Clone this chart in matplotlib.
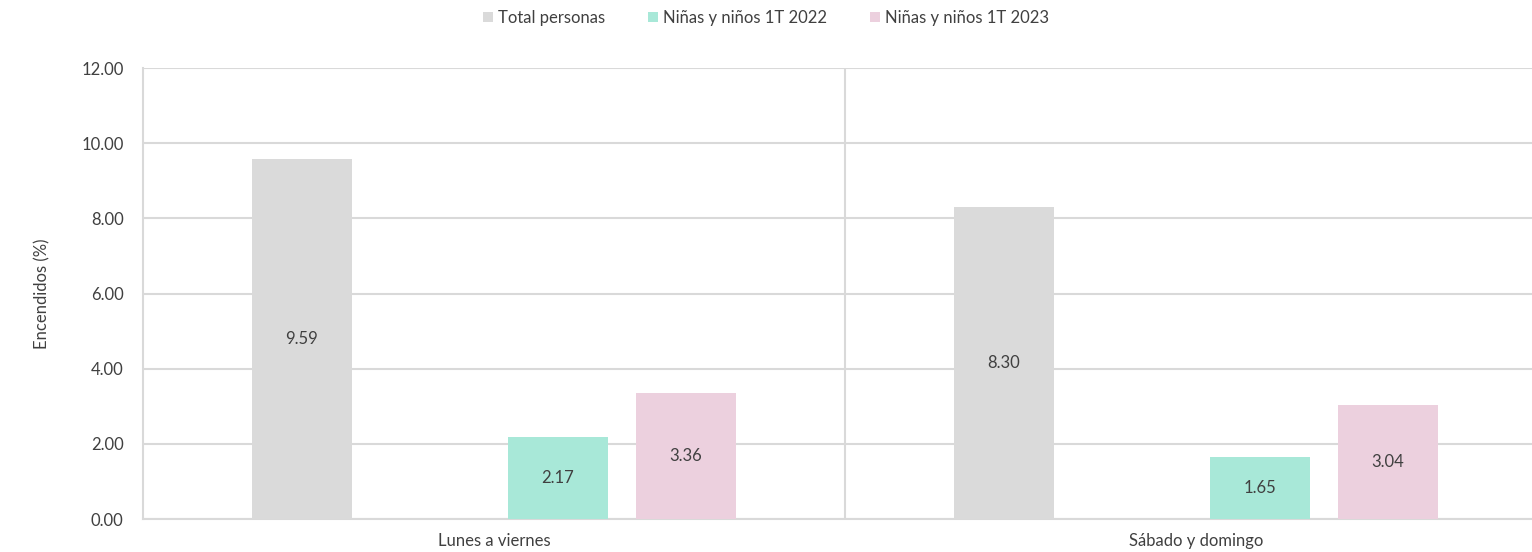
import numpy as np
import matplotlib.pyplot as plt
from matplotlib.patches import Patch

plt.rcParams['font.family'] = ['Lato', 'DejaVu Sans']

categorias = ['Lunes a viernes', 'Sábado y domingo']
series = ['Total personas', 'Niñas y niños 1T 2022', 'Niñas y niños 1T 2023']
valores = [
    [9.59, 8.30],
    [2.17, 1.65],
    [3.36, 3.04],
]
colores = ['#dadada', '#a8e8d8', '#ecd0de']
# the chart keeps an empty 2nd slot in every group
huecos = [0, 2, 3]
n_huecos = 4

texto = '#404040'
rejilla = '#d9d9d9'
fs = 12

fig = plt.figure(figsize=(15.32, 5.52), dpi=100)
ax = fig.add_axes([143 / 1532, 33 / 552, 1404 / 1532, 451 / 552])

x = np.arange(len(categorias))
paso = 128 / 702
ancho = 100 / 702

for s, nombre in enumerate(series):
    pos = x + (huecos[s] - (n_huecos - 1) / 2) * paso
    barras = ax.bar(pos, valores[s], width=ancho, color=colores[s], zorder=3)
    for b, v in zip(barras, valores[s]):
        ax.text(b.get_x() + b.get_width() / 2, v / 2, '%.2f' % v,
                ha='center', va='center', fontsize=fs, color=texto, zorder=4)

ax.set_xlim(-0.5, len(categorias) - 0.5)
ax.set_ylim(0, 12)
ax.set_yticks(np.arange(0, 12.01, 2))
ax.yaxis.set_major_formatter(plt.FormatStrFormatter('%.2f'))
ax.set_xticks(x)
ax.set_xticklabels(categorias)

ax.grid(axis='y', color=rejilla, linewidth=1.5, zorder=0)
for xb in x[:-1] + 0.5:
    ax.axvline(xb, color=rejilla, linewidth=1.5, zorder=1)

for lado in ['top', 'right']:
    ax.spines[lado].set_visible(False)
ax.spines['left'].set_color(rejilla)
ax.spines['left'].set_linewidth(1.5)
ax.spines['bottom'].set_color(rejilla)
ax.spines['bottom'].set_linewidth(1.5)
ax.tick_params(axis='both', length=0, labelsize=fs, colors=texto)
ax.tick_params(axis='y', pad=14)
ax.tick_params(axis='x', pad=10)

ax.set_ylabel('Encendidos (%)', fontsize=fs, color=texto, labelpad=22)

handles = [Patch(facecolor=c, edgecolor='none') for c in colores]
fig.legend(handles, series, loc='center', bbox_to_anchor=(0.5, 1 - 18 / 552),
           ncol=3, frameon=False, fontsize=fs, labelcolor=texto,
           handlelength=0.6, handleheight=0.6, handletextpad=0.3, columnspacing=2.6)

fig.savefig('out.png', dpi=100)
